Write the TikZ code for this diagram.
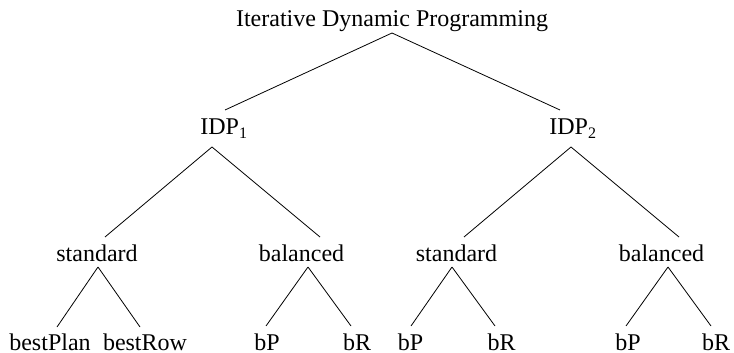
\documentclass[tikz,border=0pt]{standalone}
\usepackage{fontspec}
\setmainfont{Liberation Serif}
\usetikzlibrary{calc}
\begin{document}
\begin{tikzpicture}[x=0.5pt,y=-0.5pt,
  lbl/.style={inner sep=0pt, anchor=base, font=\fontsize{12}{14}\selectfont},
  edge/.style={line width=0.4pt}]
\useasboundingbox (0,0) rectangle (734,353);
% nodes
\node[lbl] (root) at (392,27) {Iterative Dynamic Programming};
\node[lbl, anchor=base west] (idp1) at (200,135) {IDP\textsubscript{1}};
\node[lbl, anchor=base west] (idp2) at (549,135) {IDP\textsubscript{2}};
\node[lbl] (stdL) at (97,261) {standard};
\node[lbl] (balL) at (301.5,261) {balanced};
\node[lbl] (stdR) at (456.5,261) {standard};
\node[lbl] (balR) at (661.5,261) {balanced};
\node[lbl] (bestPlan) at (50,350) {bestPlan};
\node[lbl] (bestRow) at (145,350) {bestRow};
\node[lbl] (bPa) at (267,350) {bP};
\node[lbl] (bRa) at (357,350) {bR};
\node[lbl] (bPb) at (410.5,350) {bP};
\node[lbl] (bRb) at (501.5,350) {bR};
\node[lbl] (bPc) at (628,350) {bP};
\node[lbl] (bRc) at (716,350) {bR};
% edges
\draw[edge] ($(root.base)+(0,6)$) -- ($(idp1.base west)+(25,-25)$);
\draw[edge] ($(root.base)+(0,6)$) -- ($(idp2.base west)+(11,-25)$);
\draw[edge] ($(idp1.base west)+(12,12)$) -- ($(stdL.base)+(8,-24)$);
\draw[edge] ($(idp1.base west)+(12,12)$) -- ($(balL.base)+(18.5,-24)$);
\draw[edge] ($(idp2.base west)+(22,12)$) -- ($(stdR.base)+(7.5,-24)$);
\draw[edge] ($(idp2.base west)+(22,12)$) -- ($(balR.base)+(17.5,-24)$);
\draw[edge] ($(stdL.base)+(1,6)$) -- ($(bestPlan.base)+(7,-23)$);
\draw[edge] ($(stdL.base)+(1,6)$) -- ($(bestRow.base)+(-5,-23)$);
\draw[edge] ($(balL.base)+(6.5,6)$) -- ($(bPa.base)+(-1,-24)$);
\draw[edge] ($(balL.base)+(6.5,6)$) -- ($(bRa.base)+(-6,-24)$);
\draw[edge] ($(stdR.base)+(-4.5,6)$) -- ($(bPb.base)+(0.5,-24)$);
\draw[edge] ($(stdR.base)+(-4.5,6)$) -- ($(bRb.base)+(-6.5,-24)$);
\draw[edge] ($(balR.base)+(6.5,6)$) -- ($(bPc.base)+(-2,-24)$);
\draw[edge] ($(balR.base)+(6.5,6)$) -- ($(bRc.base)+(-5,-24)$);
\end{tikzpicture}
\end{document}
